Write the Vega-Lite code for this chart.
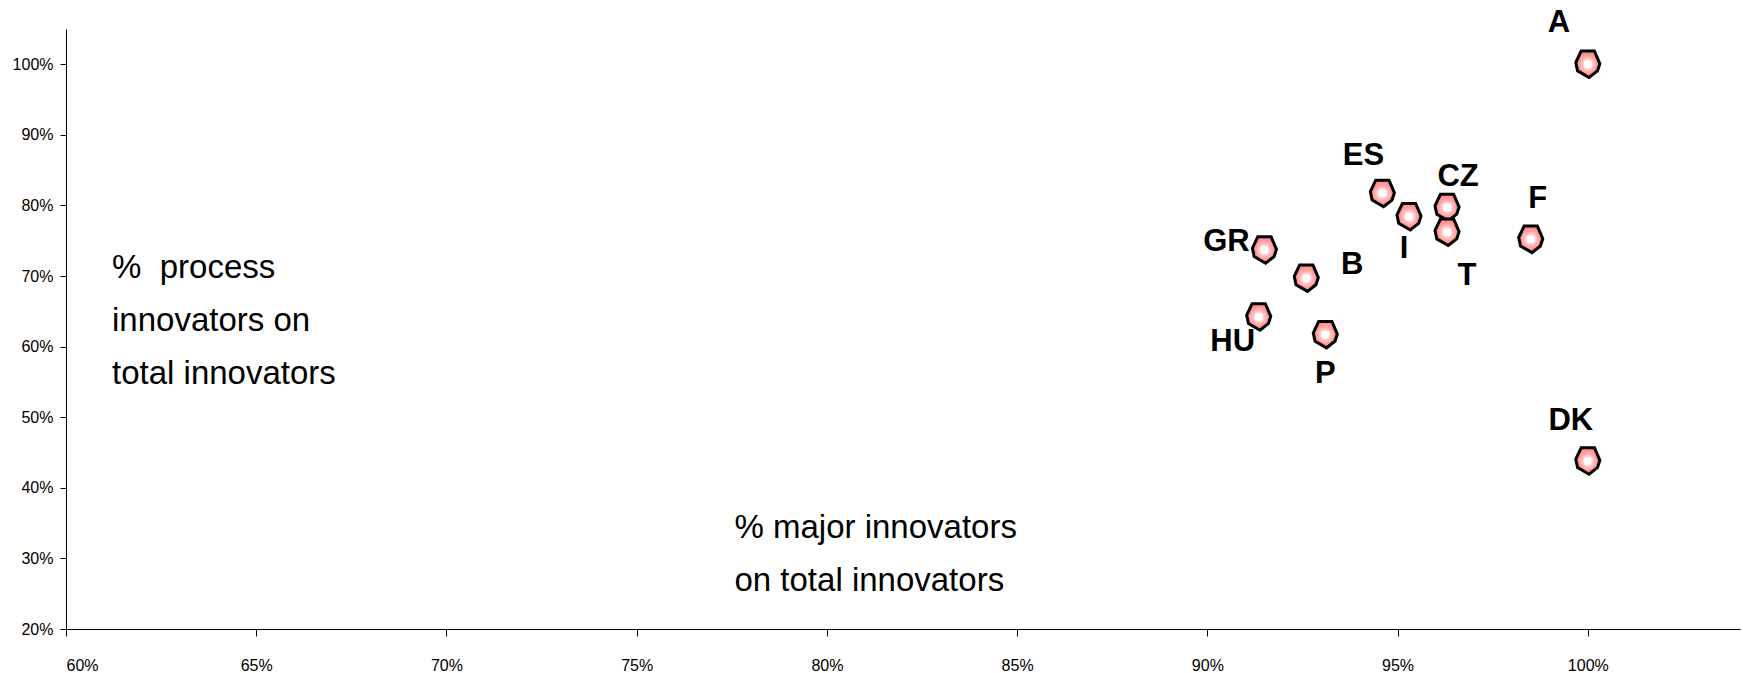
{
  "$schema": "https://vega.github.io/schema/vega-lite/v6.json",
  "width": 1674,
  "height": 600,
  "autosize": {"type": "none"},
  "padding": {"left": 66, "top": 29, "right": 3, "bottom": 44},
  "background": "white",
  "config": {
    "view": {"stroke": null},
    "axis": {"grid": false, "domainColor": "#000000", "tickColor": "#000000", "labelColor": "#000000", "title": null, "domainWidth": 1, "tickWidth": 1}
  },
  "datasets": {
    "pts": [
      {"c": "A", "x": 1.0, "y": 1.0},
      {"c": "ES", "x": 0.946, "y": 0.817},
      {"c": "I", "x": 0.953, "y": 0.784},
      {"c": "CZ", "x": 0.963, "y": 0.797},
      {"c": "T", "x": 0.963, "y": 0.762},
      {"c": "F", "x": 0.985, "y": 0.752},
      {"c": "GR", "x": 0.915, "y": 0.737},
      {"c": "B", "x": 0.926, "y": 0.697},
      {"c": "HU", "x": 0.9135, "y": 0.642},
      {"c": "P", "x": 0.931, "y": 0.617},
      {"c": "DK", "x": 1.0, "y": 0.438}
    ],
    "notes": [
      {"t": "%\u00a0 process\ninnovators on\ntotal innovators", "x": 0.6121, "y": 0.697},
      {"t": "% major innovators\non total innovators", "x": 0.7757, "y": 0.3293}
    ]
  },
  "layer": [
    {
      "data": {"name": "notes"},
      "mark": {"type": "text", "align": "left", "baseline": "alphabetic", "font": "Liberation Sans", "fontSize": 33, "lineHeight": 53, "lineBreak": "\n", "color": "#000000"},
      "encoding": {
        "x": {"field": "x", "type": "quantitative", "scale": {"domain": [0.6, 1.04], "nice": false, "zero": false},
          "axis": {"format": ".0%", "values": [0.6, 0.65, 0.7, 0.75, 0.8, 0.85, 0.9, 0.95, 1.0], "labelFont": "Liberation Sans", "labelFontSize": 16, "tickSize": 7, "labelPadding": 21}},
        "y": {"field": "y", "type": "quantitative", "scale": {"domain": [0.2, 1.05], "nice": false, "zero": false},
          "axis": {"format": ".0%", "values": [0.2, 0.3, 0.4, 0.5, 0.6, 0.7, 0.8, 0.9, 1.0], "labelFont": "Liberation Sans", "labelFontSize": 16, "tickSize": 6, "labelPadding": 7}},
        "text": {"field": "t"}
      }
    },
    {
      "data": {"name": "pts"},
      "mark": {"type": "point", "shape": "M-0.55,-1.1L0.55,-1.1L1,-0.05L0.8,0.55L0.1,1.1L-0.85,0.55L-1,-0.15Z", "size": 580, "filled": true, "opacity": 1, "stroke": "#000000", "strokeWidth": 3,
        "fill": {"gradient": "radial", "x1": 0.5, "y1": 0.5, "r1": 0, "x2": 0.5, "y2": 0.5, "r2": 0.55,
          "stops": [{"offset": 0, "color": "#ffffff"}, {"offset": 0.2, "color": "#ffffff"}, {"offset": 0.35, "color": "#ffcccc"}, {"offset": 0.6, "color": "#ff9f9f"}, {"offset": 1, "color": "#ff7a7a"}]}},
      "encoding": {
        "x": {"field": "x", "type": "quantitative"},
        "y": {"field": "y", "type": "quantitative"}
      }
    },
    {
      "data": {"name": "pts"},
      "mark": {"type": "point", "shape": "square", "size": 49, "filled": true, "opacity": 1, "fill": "#ffffff", "strokeWidth": 0},
      "encoding": {
        "x": {"field": "x", "type": "quantitative"},
        "y": {"field": "y", "type": "quantitative"}
      }
    },
    {"data": {"name": "pts"}, "transform": [{"filter": "datum.c == 'A'"}], "mark": {"type": "text", "dx": -29, "dy": -41, "font": "Liberation Sans", "fontWeight": "bold", "fontSize": 31, "baseline": "middle", "align": "center", "color": "#000000"}, "encoding": {"x": {"field": "x", "type": "quantitative"}, "y": {"field": "y", "type": "quantitative"}, "text": {"field": "c"}}},
    {"data": {"name": "pts"}, "transform": [{"filter": "datum.c == 'ES'"}], "mark": {"type": "text", "dx": -19, "dy": -37, "font": "Liberation Sans", "fontWeight": "bold", "fontSize": 31, "baseline": "middle", "align": "center", "color": "#000000"}, "encoding": {"x": {"field": "x", "type": "quantitative"}, "y": {"field": "y", "type": "quantitative"}, "text": {"field": "c"}}},
    {"data": {"name": "pts"}, "transform": [{"filter": "datum.c == 'I'"}], "mark": {"type": "text", "dx": -5, "dy": 32, "font": "Liberation Sans", "fontWeight": "bold", "fontSize": 31, "baseline": "middle", "align": "center", "color": "#000000"}, "encoding": {"x": {"field": "x", "type": "quantitative"}, "y": {"field": "y", "type": "quantitative"}, "text": {"field": "c"}}},
    {"data": {"name": "pts"}, "transform": [{"filter": "datum.c == 'CZ'"}], "mark": {"type": "text", "dx": 11, "dy": -31, "font": "Liberation Sans", "fontWeight": "bold", "fontSize": 31, "baseline": "middle", "align": "center", "color": "#000000"}, "encoding": {"x": {"field": "x", "type": "quantitative"}, "y": {"field": "y", "type": "quantitative"}, "text": {"field": "c"}}},
    {"data": {"name": "pts"}, "transform": [{"filter": "datum.c == 'T'"}], "mark": {"type": "text", "dx": 20, "dy": 44, "font": "Liberation Sans", "fontWeight": "bold", "fontSize": 31, "baseline": "middle", "align": "center", "color": "#000000"}, "encoding": {"x": {"field": "x", "type": "quantitative"}, "y": {"field": "y", "type": "quantitative"}, "text": {"field": "c"}}},
    {"data": {"name": "pts"}, "transform": [{"filter": "datum.c == 'F'"}], "mark": {"type": "text", "dx": 7, "dy": -40, "font": "Liberation Sans", "fontWeight": "bold", "fontSize": 31, "baseline": "middle", "align": "center", "color": "#000000"}, "encoding": {"x": {"field": "x", "type": "quantitative"}, "y": {"field": "y", "type": "quantitative"}, "text": {"field": "c"}}},
    {"data": {"name": "pts"}, "transform": [{"filter": "datum.c == 'GR'"}], "mark": {"type": "text", "dx": -38, "dy": -8, "font": "Liberation Sans", "fontWeight": "bold", "fontSize": 31, "baseline": "middle", "align": "center", "color": "#000000"}, "encoding": {"x": {"field": "x", "type": "quantitative"}, "y": {"field": "y", "type": "quantitative"}, "text": {"field": "c"}}},
    {"data": {"name": "pts"}, "transform": [{"filter": "datum.c == 'B'"}], "mark": {"type": "text", "dx": 46, "dy": -13, "font": "Liberation Sans", "fontWeight": "bold", "fontSize": 31, "baseline": "middle", "align": "center", "color": "#000000"}, "encoding": {"x": {"field": "x", "type": "quantitative"}, "y": {"field": "y", "type": "quantitative"}, "text": {"field": "c"}}},
    {"data": {"name": "pts"}, "transform": [{"filter": "datum.c == 'HU'"}], "mark": {"type": "text", "dx": -26, "dy": 25, "font": "Liberation Sans", "fontWeight": "bold", "fontSize": 31, "baseline": "middle", "align": "center", "color": "#000000"}, "encoding": {"x": {"field": "x", "type": "quantitative"}, "y": {"field": "y", "type": "quantitative"}, "text": {"field": "c"}}},
    {"data": {"name": "pts"}, "transform": [{"filter": "datum.c == 'P'"}], "mark": {"type": "text", "dx": 0, "dy": 39, "font": "Liberation Sans", "fontWeight": "bold", "fontSize": 31, "baseline": "middle", "align": "center", "color": "#000000"}, "encoding": {"x": {"field": "x", "type": "quantitative"}, "y": {"field": "y", "type": "quantitative"}, "text": {"field": "c"}}},
    {"data": {"name": "pts"}, "transform": [{"filter": "datum.c == 'DK'"}], "mark": {"type": "text", "dx": -17, "dy": -40, "font": "Liberation Sans", "fontWeight": "bold", "fontSize": 31, "baseline": "middle", "align": "center", "color": "#000000"}, "encoding": {"x": {"field": "x", "type": "quantitative"}, "y": {"field": "y", "type": "quantitative"}, "text": {"field": "c"}}}
  ]
}
